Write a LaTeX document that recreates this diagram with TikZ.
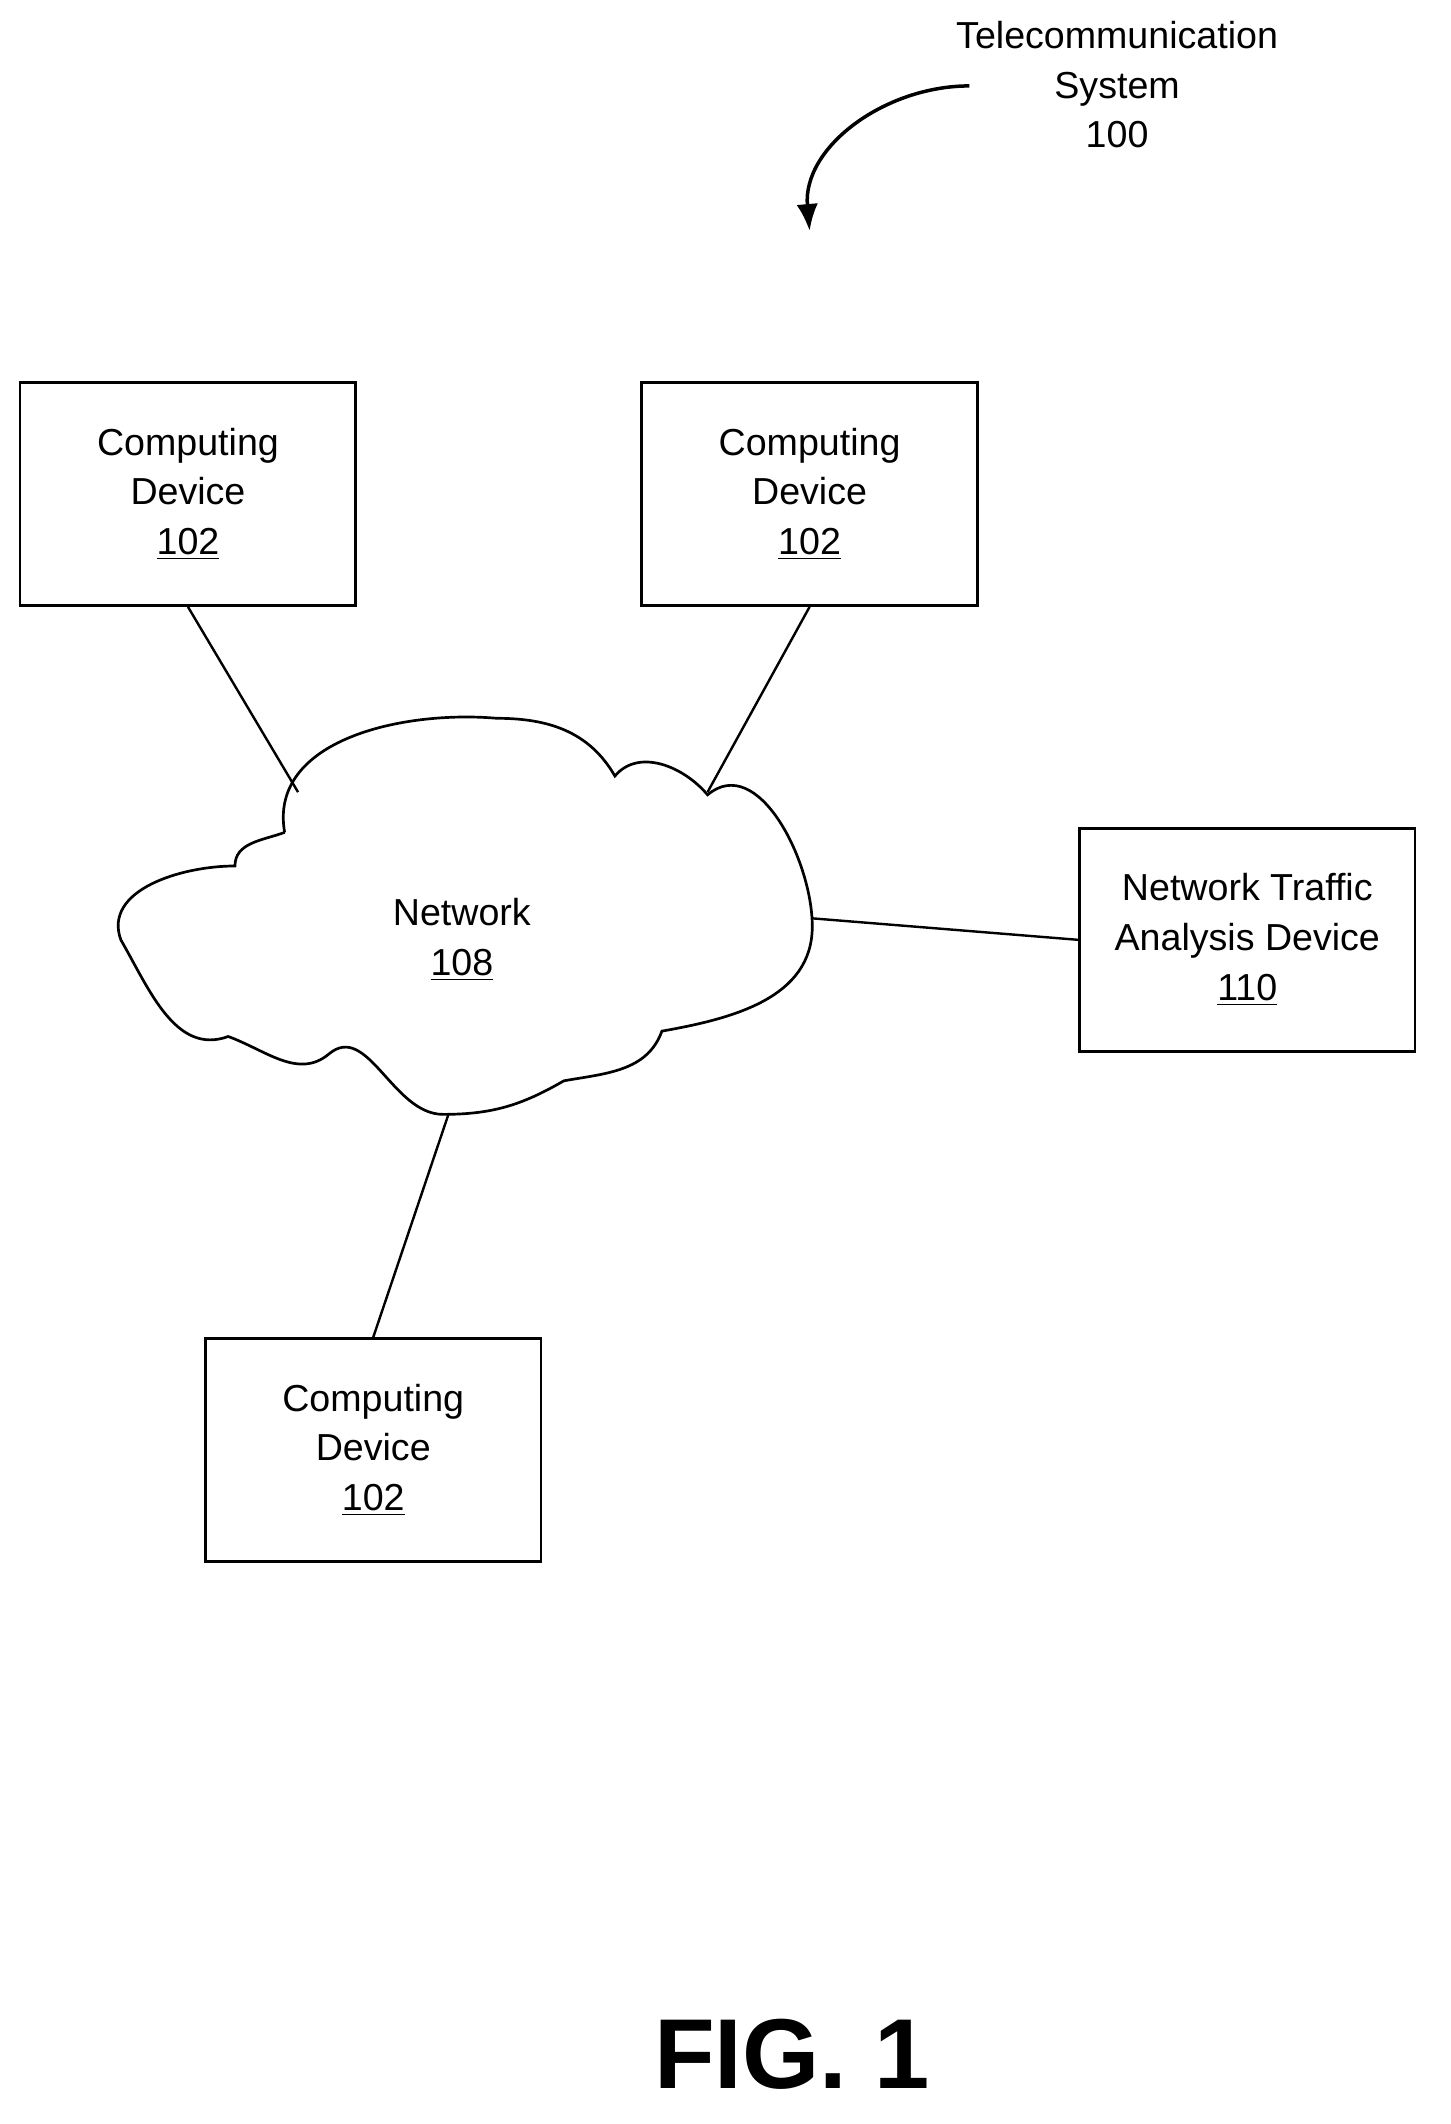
\documentclass[tikz,border=0pt]{standalone}
\usepackage{fontspec}
\setmainfont{Liberation Sans}
\usetikzlibrary{arrows.meta}
\begin{document}
\begin{tikzpicture}[x=0.5pt,y=-0.5pt,
 box/.style={draw,line width=1pt,minimum width=125pt,minimum height=83pt,align=center,font=\fontsize{14}{18.5}\selectfont,inner sep=0pt},
 lbl/.style={align=center,font=\fontsize{14}{18.5}\selectfont},
 ln/.style={line width=0.9pt}]
\useasboundingbox (0,0) rectangle (1080,1582);
\node[box] (cd1) at (140,368) {Computing\\Device\\\underline{102}};
\node[box] (cd2) at (603,368) {Computing\\Device\\\underline{102}};
\node[box] (cd3) at (278,1080) {Computing\\Device\\\underline{102}};
\node[box] (nta) at (929,700) {Network Traffic\\Analysis Device\\\underline{110}};
\draw[line width=1pt] (212,620) to[out=100,in=175] (370,535) to[out=0,in=120] (458,578)
 to[out=50,in=130] (527,592) to[out=40,in=90] (605,690) to[out=-90,in=10] (493,768)
 to[out=-110,in=10] (420,805) to[out=-150,in=0] (330,830) to[out=180,in=40] (245,785)
 to[out=-140,in=-20] (170,772) to[out=-160,in=-60] (90,700) to[out=110,in=180] (175,645)
 to[out=90,in=200] (212,620);
\node[lbl] (net) at (344,700) {Network\\\underline{108}};
\coordinate (c1) at (222,590);
\coordinate (c2) at (527,590);
\coordinate (c3) at (605,684);
\coordinate (c4) at (334,830);
\draw[ln] (cd1.south) -- (c1);
\draw[ln] (cd2.south) -- (c2);
\draw[ln] (c3) -- (nta.west);
\draw[ln] (c4) -- (cd3.north);
\node[lbl] (tel) at (832,63) {Telecommunication\\System\\100};
\coordinate (a0) at (722,64);
\coordinate (a1) at (603,172);
\draw[line width=1.3pt,-{Latex[length=10pt,width=8pt]}] (a0) to[out=180,in=95] (a1);
\node[font=\bfseries\fontsize{37}{40}\selectfont] (fig) at (590,1530) {FIG. 1};
\end{tikzpicture}
\end{document}
